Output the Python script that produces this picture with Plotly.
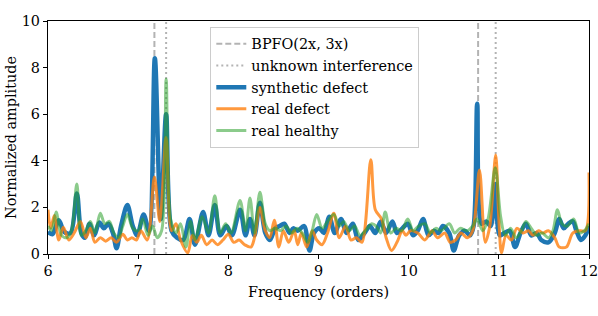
import plotly.graph_objects as go

# ---- data ----
syn_x = [6.00, 6.05, 6.12, 6.18, 6.25, 6.32, 6.37, 6.41, 6.46, 6.51, 6.57, 6.62, 6.67, 6.72, 6.76,
         6.81, 6.88, 6.94, 6.99, 7.06, 7.12, 7.185, 7.25, 7.31, 7.37, 7.43, 7.50, 7.57, 7.63, 7.72,
         7.78, 7.85, 7.91, 7.98, 8.04, 8.13, 8.19, 8.24, 8.29, 8.35, 8.41, 8.46, 8.52, 8.57, 8.62,
         8.68, 8.72, 8.77, 8.84, 8.90, 8.95, 9.01, 9.06, 9.12, 9.18, 9.25, 9.31, 9.38, 9.44, 9.51,
         9.57, 9.63, 9.69, 9.75, 9.82, 9.87, 9.93, 9.99, 10.05, 10.10, 10.16, 10.22, 10.28, 10.33,
         10.38, 10.45, 10.50, 10.56, 10.62, 10.68, 10.72, 10.76, 10.81, 10.86, 10.91, 10.96, 11.01,
         11.06, 11.12, 11.18, 11.24, 11.30, 11.36, 11.42, 11.47, 11.55, 11.62, 11.67, 11.72, 11.77,
         11.82, 11.86, 11.91, 11.96, 12.00]
syn_y = [0.95, 0.85, 1.45, 0.95, 0.9, 2.6, 0.9, 0.7, 1.3, 0.8, 1.35, 1.1, 1.3, 0.9, 0.25,
         1.2, 2.1, 1.2, 0.8, 1.7, 1.0, 8.4, 1.5, 6.0, 1.0, 0.7, 0.6, 1.5, 0.4, 1.8,
         0.8, 2.1, 0.8, 1.2, 0.8, 1.9, 0.8, 1.5, 0.8, 2.2, 0.9, 0.6, 1.1, 1.2, 1.3,
         0.9, 1.1, 1.0, 1.2, 0.15, 0.9, 1.1, 0.9, 1.6, 0.9, 1.5, 0.9, 1.3, 0.6, 0.9,
         1.2, 0.9, 1.4, 0.9, 1.4, 0.9, 1.1, 1.3, 0.8, 1.0, 1.5, 0.8, 1.0, 0.9,
         1.2, 0.9, 0.15, 0.8, 1.0, 0.8, 1.2, 6.45, 1.3, 1.4, 1.2, 3.0, 0.8,
         0.9, 1.0, 0.3, 0.9, 1.3, 0.8, 0.9, 0.6, 0.5, 0.9, 1.5, 1.1, 1.3,
         1.4, 1.0, 0.6, 0.8, 1.2]

real_def_x = [6.00, 6.03, 6.07, 6.12, 6.17, 6.23, 6.29, 6.36, 6.42, 6.47, 6.52, 6.58, 6.64, 6.70,
              6.76, 6.83, 6.88, 6.93, 6.98, 7.03, 7.10, 7.18, 7.24, 7.31, 7.37, 7.42, 7.47, 7.55,
              7.60, 7.65, 7.70, 7.76, 7.82, 7.88, 7.94, 8.00, 8.06, 8.12, 8.18, 8.25, 8.29, 8.35,
              8.41, 8.46, 8.51, 8.56, 8.61, 8.67, 8.73, 8.77, 8.81, 8.87, 8.93, 8.98, 9.04, 9.10,
              9.17, 9.23, 9.30, 9.36, 9.42, 9.48, 9.58, 9.63, 9.70, 9.75, 9.81, 9.87, 9.93, 9.97,
              10.02, 10.10, 10.18, 10.22, 10.26, 10.32, 10.40, 10.46, 10.52, 10.58, 10.65, 10.71,
              10.785, 10.85, 10.90, 10.965, 11.00, 11.03, 11.08, 11.14, 11.20, 11.27, 11.33, 11.38,
              11.44, 11.49, 11.55, 11.62, 11.67, 11.75, 11.82, 11.90, 11.96, 12.00]
real_def_y = [1.9, 1.1, 1.65, 0.6, 1.15, 0.6, 0.9, 1.4, 0.7, 1.1, 0.5, 0.7, 0.55, 0.7,
              0.5, 0.85, 0.6, 0.7, 0.6, 1.0, 0.6, 3.3, 1.4, 5.0, 1.0, 1.3, 0.6, 0.05,
              0.8, 0.5, 0.8, 0.4, 0.6, 0.4, 0.6, 0.85, 0.5, 0.6, 0.4, 0.3, 0.7, 2.0,
              1.0, 0.7, 1.45, 0.3, 1.0, 0.5, 1.0, 0.4, 0.9, 0.3, 1.0, 0.6, 0.4, 0.9,
              1.75, 0.7, 1.2, 0.6, 0.7, 0.5, 4.05, 1.9, 1.5, 0.7, 0.15, 0.5, 1.0, 0.8,
              1.0, 0.9, 0.6, 0.8, 1.0, 0.7, 0.9, 0.5, 0.6, 0.9, 0.7, 1.0,
              3.6, 0.5, 1.2, 4.25, 1.5, 0.05, 0.8, 0.6, 1.1, 0.9, 1.0, 0.8,
              1.0, 0.9, 1.0, 0.7, 0.3, 0.3, 0.9, 1.0, 1.0, 3.5]

healthy_x = [6.00, 6.04, 6.09, 6.15, 6.21, 6.26, 6.32, 6.37, 6.42, 6.47, 6.52, 6.58, 6.63, 6.68,
             6.73, 6.78, 6.83, 6.88, 6.94, 7.00, 7.05, 7.11, 7.16, 7.21, 7.26, 7.31, 7.36, 7.42,
             7.47, 7.53, 7.58, 7.63, 7.71, 7.78, 7.85, 7.91, 7.97, 8.03, 8.13, 8.19, 8.24, 8.29,
             8.35, 8.41, 8.46, 8.52, 8.58, 8.64, 8.70, 8.76, 8.82, 8.88, 8.93, 8.98, 9.04, 9.10,
             9.17, 9.23, 9.28, 9.34, 9.40, 9.46, 9.52, 9.59, 9.64, 9.69, 9.74, 9.80, 9.86, 9.92,
             9.99, 10.05, 10.11, 10.18, 10.24, 10.30, 10.36, 10.45, 10.51, 10.57, 10.65, 10.71,
             10.76, 10.82, 10.88, 10.96, 11.02, 11.07, 11.13, 11.19, 11.25, 11.30, 11.36, 11.42,
             11.48, 11.55, 11.60, 11.65, 11.70, 11.76, 11.83, 11.89, 11.95, 12.00]
healthy_y = [1.2, 1.0, 1.8, 0.8, 0.7, 1.0, 3.0, 0.8, 1.0, 1.4, 0.9, 1.75, 1.3, 1.4,
             0.9, 0.7, 1.2, 1.7, 1.1, 1.0, 1.5, 0.8, 1.2, 0.7, 1.0, 7.5, 1.5, 0.9,
             1.3, 0.3, 1.4, 0.6, 1.6, 0.9, 2.5, 0.9, 1.3, 0.9, 2.3, 1.0, 2.4, 0.9,
             2.65, 1.3, 1.0, 1.1, 1.0, 1.2, 0.9, 1.1, 0.9, 0.5, 1.0, 1.7, 1.1, 1.4,
             1.7, 1.2, 1.4, 1.0, 1.2, 0.8, 1.0, 1.3, 1.2, 0.9, 1.8, 0.9, 1.1, 1.0,
             1.5, 1.0, 1.2, 1.3, 0.9, 1.1, 1.0, 1.3, 0.9, 1.1, 1.0, 1.2,
             1.5, 1.0, 1.5, 3.7, 1.6, 0.8, 1.1, 0.7, 1.0, 1.4, 1.1, 0.8,
             0.9, 0.7, 1.0, 1.9, 1.3, 1.2, 1.5, 0.9, 1.0, 1.3]

bpfo_orders = [7.18, 10.77]
unknown_orders = [7.31, 10.965]
y_span = [0, 10]
x_ticks = [6, 7, 8, 9, 10, 11, 12]
y_ticks = [0, 2, 4, 6, 8, 10]


def vline_xy(xs):
    vx, vy = [], []
    for v in xs:
        vx += [v, v, None]
        vy += [y_span[0], y_span[1], None]
    return vx, vy


FONT = "DejaVu Serif"
FS = 14.4
fig = go.Figure()

bx, by = vline_xy(bpfo_orders)
fig.add_trace(go.Scatter(x=bx, y=by, mode="lines", name="BPFO(2x, 3x)",
                         line=dict(color="rgba(160,160,160,0.8)", width=2, dash="6px,3px")))
ux, uy = vline_xy(unknown_orders)
fig.add_trace(go.Scatter(x=ux, y=uy, mode="lines", name="unknown interference",
                         line=dict(color="rgba(160,160,160,0.8)", width=2, dash="2px,3px")))
fig.add_trace(go.Scatter(x=syn_x, y=syn_y, mode="lines", name="synthetic defect",
                         line=dict(color="#1f77b4", width=4.5, shape="spline", smoothing=0.9)))
fig.add_trace(go.Scatter(x=real_def_x, y=real_def_y, mode="lines", name="real defect",
                         line=dict(color="rgba(255,127,14,0.8)", width=3, shape="spline", smoothing=0.9)))
fig.add_trace(go.Scatter(x=healthy_x, y=healthy_y, mode="lines", name="real healthy",
                         line=dict(color="rgba(44,160,44,0.55)", width=3, shape="spline", smoothing=0.9)))

axis_common = dict(showline=True, linecolor="black", linewidth=1.2, mirror=True,
                   ticks="outside", ticklen=4, tickwidth=1, tickcolor="black",
                   showgrid=False, zeroline=False, automargin=False,
                   ticklabeloverflow="allow",
                   tickfont=dict(family=FONT, size=FS, color="black"))

fig.update_layout(
    width=598, height=316,
    margin=dict(l=48, r=9, t=21, b=62),
    paper_bgcolor="white", plot_bgcolor="white",
    font=dict(family=FONT, size=FS, color="black"),
    showlegend=True,
    legend=dict(x=0.3, y=0.975, xanchor="left", yanchor="top",
                bgcolor="rgba(255,255,255,0.8)", bordercolor="#cccccc", borderwidth=1,
                font=dict(family=FONT, size=FS), tracegroupgap=0, itemwidth=30),
    xaxis=dict(range=[6, 12], tickvals=x_ticks, ticktext=[str(t) for t in x_ticks],
               title=dict(text="Frequency (orders)", font=dict(family=FONT, size=FS), standoff=8),
               **axis_common),
    yaxis=dict(range=[0, 10], tickvals=y_ticks, ticktext=[str(t) for t in y_ticks],
               title=dict(text="Normalized amplitude", font=dict(family=FONT, size=FS), standoff=1),
               **axis_common),
)

fig.write_html("out.html", config={"displayModeBar": False},
               post_script="document.body.style.margin='0';")
